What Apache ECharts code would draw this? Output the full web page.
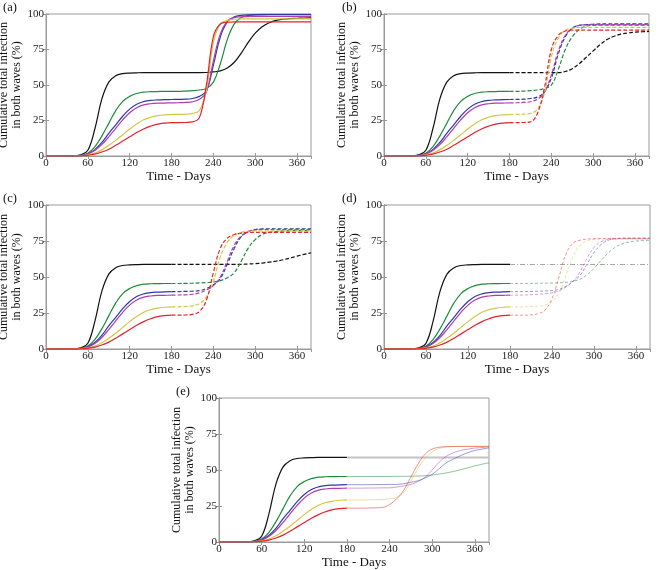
<!DOCTYPE html>
<html>
<head>
<meta charset="utf-8">
<script src="https://cdn.jsdelivr.net/npm/echarts@6/dist/echarts.min.js"></script>
<style>
html,body{margin:0;padding:0;background:#fff}
#chart{width:660px;height:570px}
</style>
</head>
<body>
<div id="chart"></div>
<script>
// days for the first wave (0-180) and the second wave (180-380)
var daysWave1 = [0,10,20,30,40,50,60,70,80,90,100,110,120,130,140,150,160,170,180];
var daysWave2 = [180,190,200,210,220,230,240,250,260,270,280,290,300,310,320,330,340,350,360,370,380];
var xTicks = [0,60,120,180,240,300,360];
var yTicks = [0,25,50,75,100];

// first wave, same in every panel
var black1   = [0,0,0,0,0.1,0.8,4,19,40,52,56.5,58,58.4,58.6,58.7,58.7,58.7,58.7,58.7];
var green1   = [0,0,0,0,0.1,0.5,2,6.5,14,23,32,38.5,42,44,45,45.3,45.4,45.5,45.5];
var blue1    = [0,0,0,0,0.1,0.4,1.5,4.5,9.5,16,22,28,33,36.5,38.3,39.2,39.5,39.7,39.8];
var magenta1 = [0,0,0,0,0.1,0.3,1.3,3.8,8,13.5,19.5,25.5,30.5,34,36,36.8,37.2,37.3,37.4];
var yellow1  = [0,0,0,0,0,0.2,0.8,2,4.3,7.5,11,15,19,22.5,25.5,27.3,28.4,29,29.2];
var red1     = [0,0,0,0,0,0.1,0.5,1.3,2.8,4.8,7.5,10.5,13.5,16.5,19,21,22.5,23.2,23.5];

// second wave, panel (a)
var aBlack   = [58.7,58.7,58.7,58.7,58.7,58.8,59.2,60,62,66,72.5,80,86.5,91,93.8,95.5,96.3,96.8,97,97.2,97.3];
var aGreen   = [45.5,45.5,45.7,46,46.5,47.5,52,65,82,93,97.5,99,99.3,99.4,99.5,99.5,99.5,99.5,99.5,99.5,99.5];
var aBlue    = [39.8,39.9,40,40.5,42,46,64,84,94.5,98,99,99.4,99.6,99.7,99.7,99.7,99.7,99.7,99.7,99.7,99.7];
var aMagenta = [37.4,37.5,37.7,38.2,40,45,67,86,95,97.5,98,98.2,98.3,98.3,98.3,98.3,98.3,98.3,98.3,98.3,98.3];
var aYellow  = [29.2,29.3,29.5,30,32,46,80,93,95.5,96.3,96.5,96.6,96.6,96.6,96.6,96.6,96.6,96.6,96.6,96.6,96.6];
var aRed     = [23.5,23.5,23.6,24,27,50,84,93,94.2,94.4,94.4,94.4,94.4,94.4,94.4,94.4,94.4,94.4,94.4,94.4,94.4];

// second wave, panel (b)
var bBlack   = [58.7,58.7,58.7,58.7,58.7,58.7,58.7,58.7,59.5,61.5,65,69.5,74,78.5,82,84.3,85.8,86.7,87.2,87.5,87.7];
var bGreen   = [45.5,45.5,45.7,46,46.5,47.5,50,61,75,84,89,91.5,92,92.2,92.2,92.2,92.2,92.2,92.2,92.2,92.2];
var bBlue    = [39.8,39.9,40,40.5,41.5,45,55,72,84,90,92,92.5,92.8,93,93,93,93,93,93,93,93];
var bMagenta = [37.4,37.5,37.7,38.2,40,45,57,74,85,90,92,92.4,92.5,92.5,92.5,92.5,92.5,92.5,92.5,92.5,92.5];
var bYellow  = [29.2,29.3,29.5,30,33,44,70,83,88.5,90,90.5,90.6,90.6,90.6,90.6,90.6,90.6,90.6,90.6,90.6,90.6];
var bRed     = [23.5,23.5,23.6,24,30,48,75,85,88,88.6,88.7,88.7,88.7,88.7,88.7,88.7,88.7,88.7,88.7,88.7,88.7];

// second wave, panel (c)
var cBlack   = [58.7,58.7,58.7,58.7,58.7,58.7,58.7,58.7,58.7,58.7,58.8,59,59.3,59.7,60.3,61,62,63.2,64.5,65.7,66.8];
var cGreen   = [45.5,45.5,45.6,45.7,45.9,46.1,46.5,47.5,49.5,53,61,70,76,79.5,81,81.7,82,82.1,82.2,82.2,82.2];
var cBlue    = [39.8,39.9,40,40.2,40.5,42,44.5,49,59,70,78,81.5,83,83.4,83.5,83.5,83.5,83.5,83.5,83.5,83.5];
var cMagenta = [37.4,37.5,37.6,38,39,41,44,50,61,72,78.5,81.5,82.5,83,83,83,83,83,83,83,83];
var cYellow  = [29.2,29.3,29.5,30,31.5,36,47,64,74,79,81,81.8,82,82,82,82,82,82,82,82,82];
var cRed     = [23.5,23.5,23.6,24,26,34,53,70,77,79.5,80.5,81,81,81,81,81,81,81,81,81,81];

// second wave, panel (d)
var dBlack   = [58.7,58.7,58.7,58.7,58.7,58.7,58.7,58.7,58.7,58.7,58.7,58.7,58.7,58.7,58.7,58.7,58.7,58.7,58.7,58.7,58.7];
var dGreen   = [45.5,45.5,45.5,45.6,45.6,45.7,45.8,46,46.3,47,48.5,51.5,56,61.5,66.5,70.5,73,74.3,75,75.3,75.5];
var dBlue    = [39.8,39.8,39.9,40,40.1,40.3,40.6,41.5,43.5,47,51,59,67,72.5,75.5,76.5,77,77,77,77,77];
var dMagenta = [37.4,37.4,37.5,37.7,38,38.4,39,40.5,43,47,53.5,63,70.5,74.5,76,76.4,76.5,76.5,76.5,76.5,76.5];
var dYellow  = [29.2,29.2,29.3,29.5,29.8,30.5,33,39,51,64,72,75,76,76.3,76.5,76.5,76.5,76.5,76.5,76.5,76.5];
var dRed     = [23.5,23.5,23.5,23.7,24.5,27,35,50,66,73.5,75.5,76.3,76.6,76.8,76.8,76.8,76.8,76.8,76.8,76.8,76.8];

// second wave, panel (e)
var eBlack   = [58.7,58.7,58.7,58.7,58.7,58.7,58.7,58.7,58.7,58.7,58.7,58.7,58.7,58.7,58.7,58.7,58.7,58.7,58.7,58.7,58.7];
var eGreen   = [45.5,45.5,45.5,45.5,45.5,45.5,45.5,45.6,45.6,45.7,45.8,46,46.5,47.2,48,49,50.2,51.5,52.8,54,55];
var eBlue    = [39.8,39.8,39.8,39.8,39.9,39.9,40,40,40.5,41.5,42.5,44.5,47,51,55,57.5,60,62,63.5,64.5,65.3];
var eMagenta = [37.4,37.4,37.4,37.5,37.5,37.6,37.6,38.2,39,40,42,45,50,55.5,59.5,62,63.5,64.5,65.2,65.6,66];
var eYellow  = [29.2,29.2,29.2,29.3,29.4,29.6,30,31,34.5,42,51,58,62.5,65,66,66.3,66.4,66.4,66.4,66.4,66.4];
var eRed     = [23.5,23.5,23.5,23.6,23.7,24,26,30,36,45,54,61,64.5,65.8,66.2,66.3,66.4,66.4,66.4,66.4,66.4];

var wave1 = [black1, green1, blue1, magenta1, yellow1, red1];
var colors = ['#111111','#1e8c3c','#2b3aa8','#b03cb0','#d4c646','#e4232b'];

var panels = [
  {label:'(a)', lx:3,   ly:1,   left:46,  top:14,  width:265, height:142, mode:'full',   wave2:[aBlack,aGreen,aBlue,aMagenta,aYellow,aRed]},
  {label:'(b)', lx:342, ly:1,   left:384, top:14,  width:265, height:142, mode:'dashed', wave2:[bBlack,bGreen,bBlue,bMagenta,bYellow,bRed]},
  {label:'(c)', lx:3,   ly:192, left:46,  top:205, width:265, height:144, mode:'dashed', wave2:[cBlack,cGreen,cBlue,cMagenta,cYellow,cRed]},
  {label:'(d)', lx:342, ly:192, left:384, top:205, width:266, height:144, mode:'faintDash', wave2:[dBlack,dGreen,dBlue,dMagenta,dYellow,dRed]},
  {label:'(e)', lx:176, ly:385, left:219, top:398, width:270, height:144, mode:'faint',  wave2:[eBlack,eGreen,eBlue,eMagenta,eYellow,eRed]}
];

var serif = '"Liberation Serif", "DejaVu Serif", serif';
var frame = '#9a9a9a';

function pairs(days, vals) {
  return days.map(function (d, i) { return [d, vals[i]]; });
}

var option = {
  backgroundColor: '#fff',
  animation: false,
  title: [], grid: [], xAxis: [], yAxis: [], series: []
};

panels.forEach(function (p, k) {
  option.title.push({
    text: p.label, left: p.lx, top: p.ly, padding: 0,
    textStyle: {fontFamily: serif, fontSize: 12.5, fontWeight: 'normal', color: '#111'}
  });
  option.grid.push({
    left: p.left, top: p.top, width: p.width, height: p.height,
    show: true, borderColor: frame, borderWidth: 1, backgroundColor: 'transparent',
    containLabel: false, outerBoundsMode: 'none'
  });
  var tick = {show: true, inside: true, length: 3, lineStyle: {color: frame}};
  var line = {show: true, lineStyle: {color: frame, width: 1}};
  option.xAxis.push({
    type: 'value', gridIndex: k, min: 0, max: 380, interval: 60, position: 'bottom',
    name: 'Time - Days', nameLocation: 'middle', nameGap: 11,
    nameTextStyle: {fontFamily: serif, fontSize: 13, fontWeight: 'normal', color: '#111'},
    axisLine: line, axisTick: tick, splitLine: {show: false},
    axisLabel: {margin: 2, fontFamily: serif, fontSize: 11, color: '#222', showMaxLabel: false}
  });
  option.xAxis.push({
    type: 'value', gridIndex: k, min: 0, max: 380, interval: 60, position: 'top',
    axisLine: line, axisTick: tick, splitLine: {show: false}, axisLabel: {show: false}
  });
  option.yAxis.push({
    type: 'value', gridIndex: k, min: 0, max: 100, interval: 25, position: 'left',
    name: 'Cumulative total infection\nin both waves (%)', nameLocation: 'middle', nameGap: 15, nameRotate: 90,
    nameTextStyle: {fontFamily: serif, fontSize: 12, fontWeight: 'normal', color: '#111', lineHeight: 13},
    axisLine: line, axisTick: tick, splitLine: {show: false},
    axisLabel: {margin: 2, fontFamily: serif, fontSize: 11, color: '#222'}
  });
  option.yAxis.push({
    type: 'value', gridIndex: k, min: 0, max: 100, interval: 25, position: 'right',
    axisLine: line, axisTick: tick, splitLine: {show: false}, axisLabel: {show: false}
  });

  var xi = k * 2, yi = k * 2;
  wave1.forEach(function (w1, s) {
    var base = {
      type: 'line', xAxisIndex: xi, yAxisIndex: yi, showSymbol: false, smooth: 0.4,
      silent: true, z: 3
    };
    if (p.mode === 'full') {
      option.series.push(Object.assign({}, base, {
        data: pairs(daysWave1, w1).concat(pairs(daysWave2, p.wave2[s]).slice(1)),
        lineStyle: {color: colors[s], width: 1.2}
      }));
      return;
    }
    option.series.push(Object.assign({}, base, {
      data: pairs(daysWave1, w1),
      lineStyle: {color: colors[s], width: 1.2}
    }));
    var ls;
    if (p.mode === 'dashed') {
      ls = {color: colors[s], width: 1.2, type: [4, 2]};
    } else if (p.mode === 'faintDash') {
      ls = s === 0 ? {color: '#8a8a8a', width: 1, type: [5, 2, 1, 2], opacity: 0.8}
                   : {color: colors[s], width: 1, type: [3, 2], opacity: 0.5};
    } else {
      ls = s === 0 ? {color: '#c4c4c4', width: 2}
                   : {color: colors[s], width: 1, opacity: 0.5};
    }
    option.series.push(Object.assign({}, base, {
      data: pairs(daysWave2, p.wave2[s]),
      lineStyle: ls,
      z: s === 0 && p.mode === 'faint' ? 2 : 3
    }));
  });
});

var myChart = echarts.init(document.getElementById('chart'));
myChart.setOption(option);
</script>
</body>
</html>
